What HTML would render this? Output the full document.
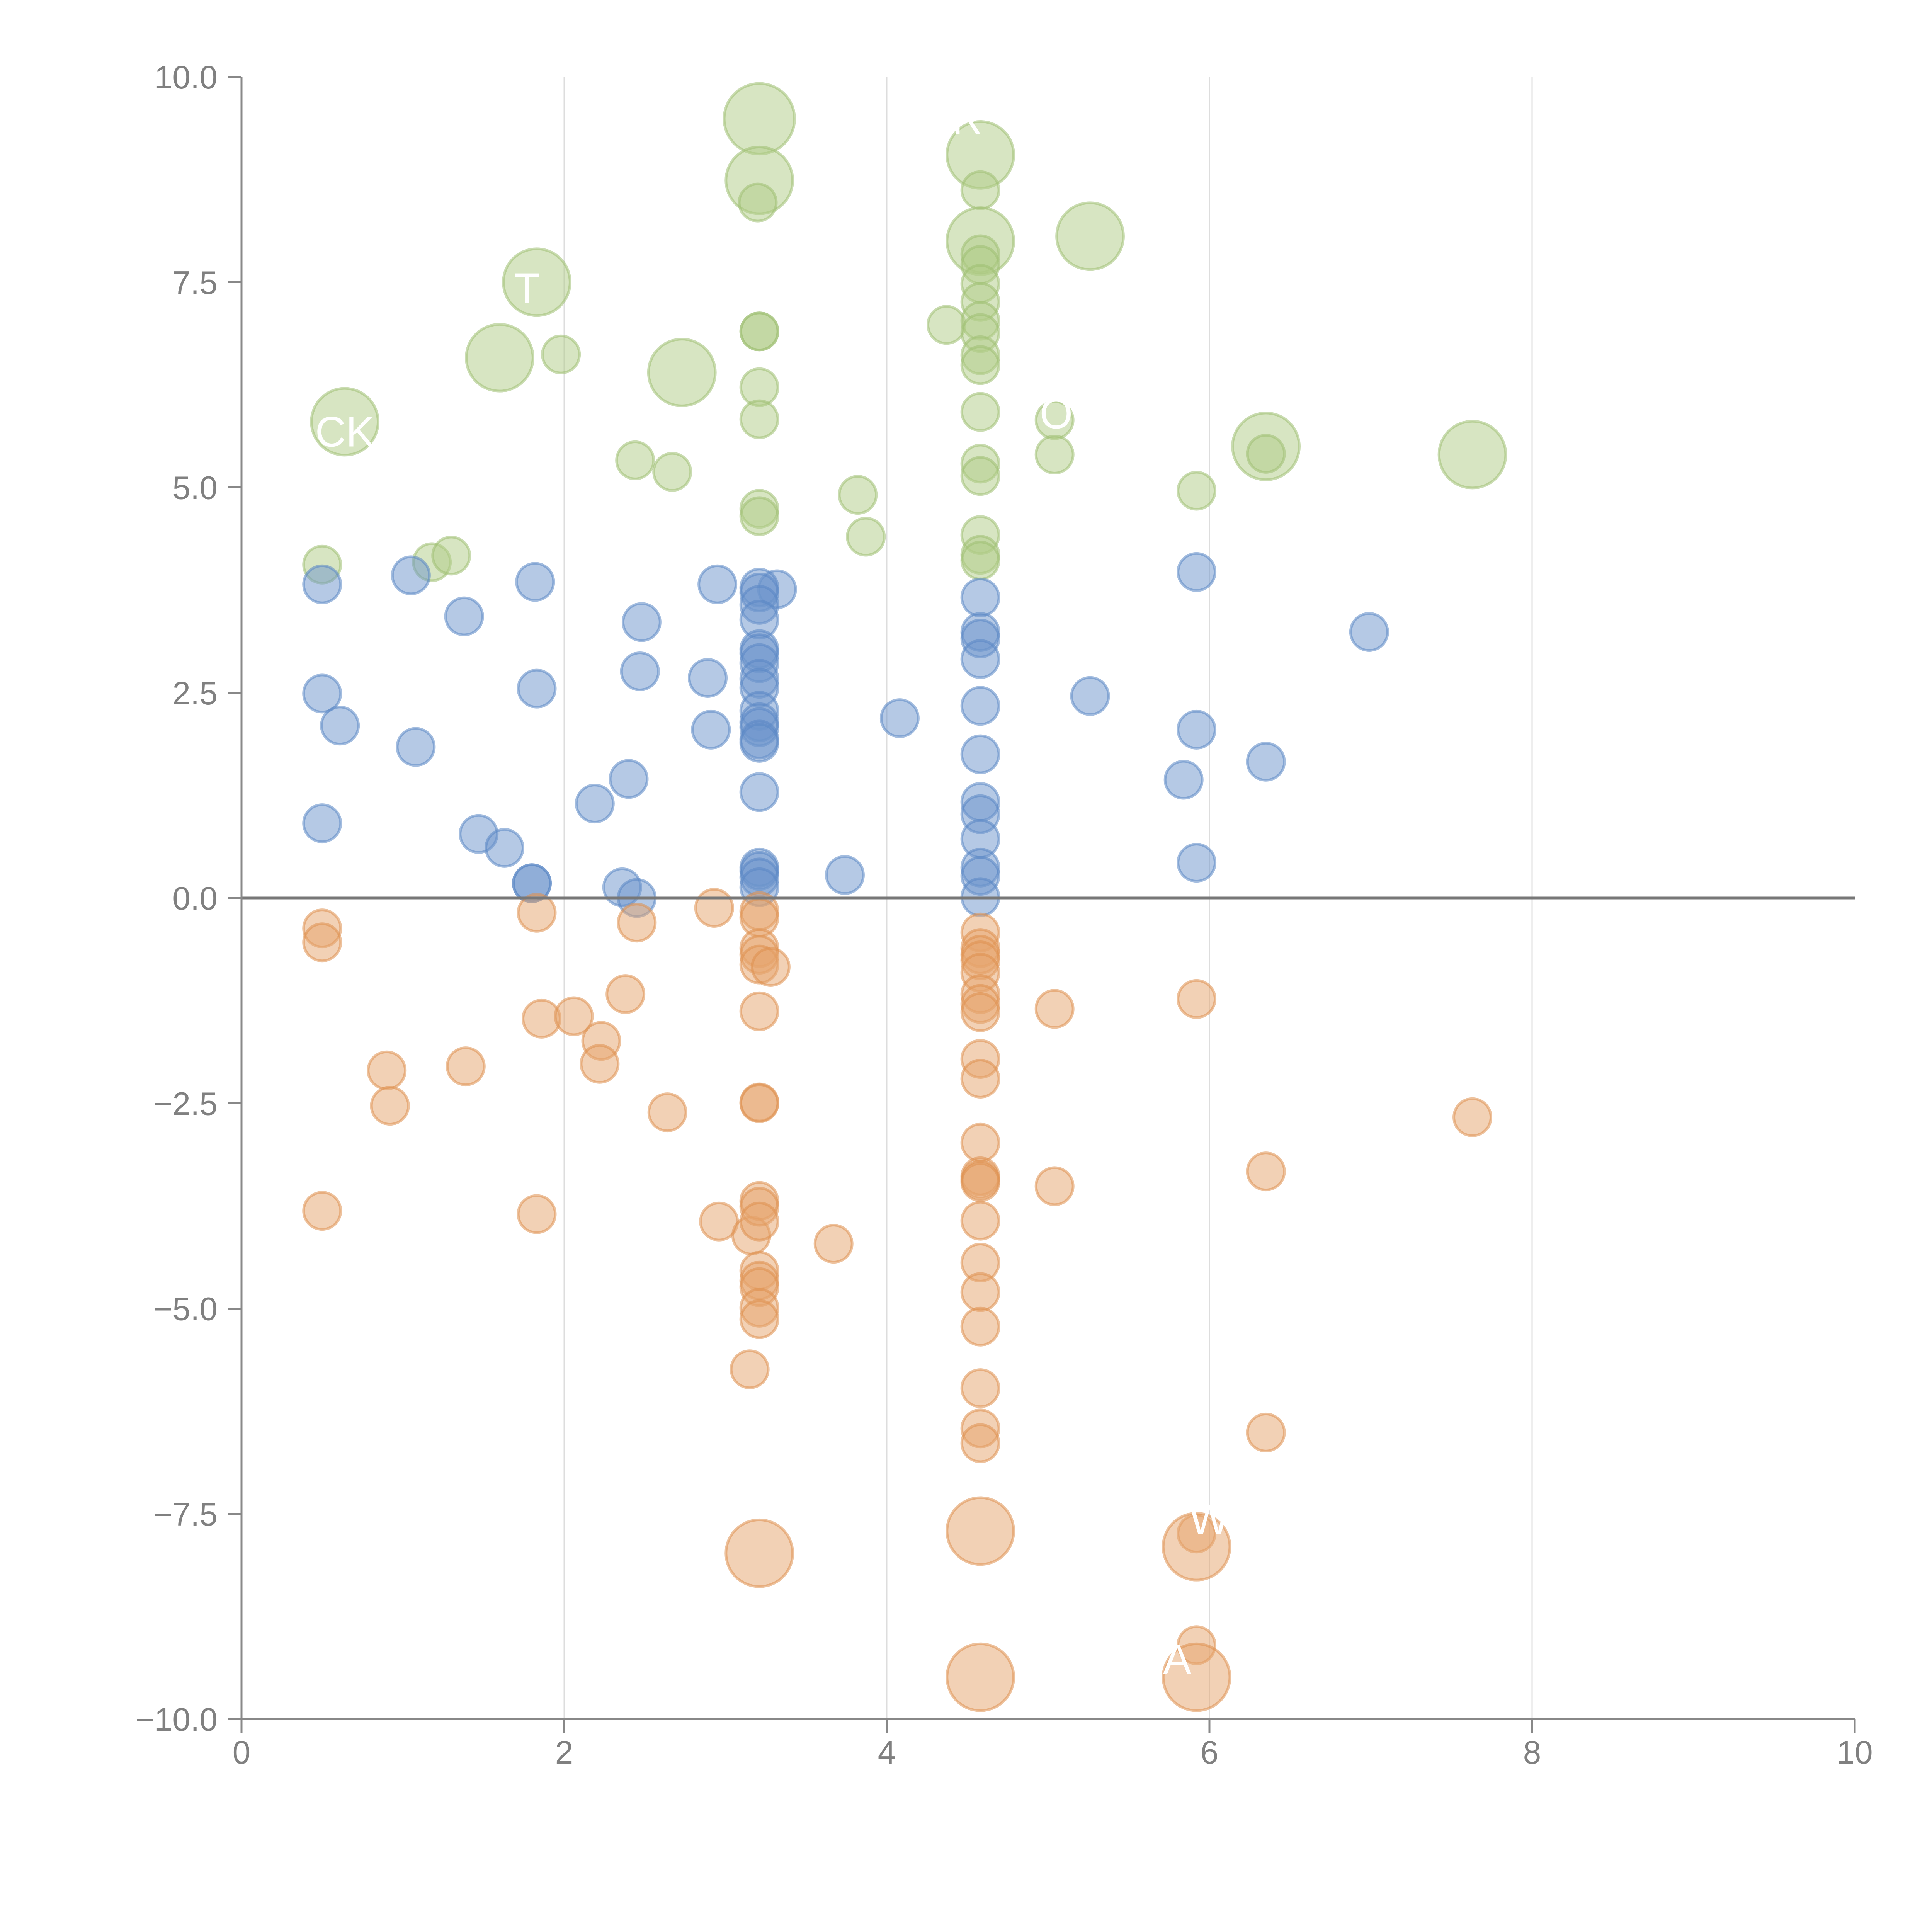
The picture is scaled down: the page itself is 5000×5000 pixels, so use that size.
<!DOCTYPE html>
<html>
<head>
<meta charset="utf-8">
<style>
  html, body { margin: 0; padding: 0; background: #ffffff; }
  svg { display: block; }
  text { font-family: "Liberation Sans", "DejaVu Sans", sans-serif; }
</style>
</head>
<body>
<svg id="chart" width="5000" height="5000" viewBox="0 0 5000 5000" xmlns="http://www.w3.org/2000/svg">
  <rect x="0" y="0" width="5000" height="5000" fill="#ffffff"/>
  <g id="grid"></g>
  <g id="bubbles"></g>
  <g id="axes"></g>
  <g id="labels"></g>
</svg>
<script>
// ---- data ----
const xTicks = [0, 2, 4, 6, 8, 10];
const xTickLabels = ["0", "2", "4", "6", "8", "10"];
const yTicks = [10, 7.5, 5, 2.5, 0, -2.5, -5, -7.5, -10];
const yTickLabels = ["10.0", "7.5", "5.0", "2.5", "0.0", "\u22122.5", "\u22125.0", "\u22127.5", "\u221210.0"];

const greenX = [3.21,3.21,3.2,4.58,4.58,4.58,5.26,1.83,1.6,1.98,2.73,0.64,2.44,2.67,3.21,3.21,3.21,3.21,3.21,3.21,3.82,3.87,4.37,
  4.58,4.58,4.58,4.58,4.58,4.58,4.58,4.58,4.58,4.58,4.58,4.58,4.58,4.58,5.04,5.04,6.35,6.35,5.92,7.63,0.5,1.18,1.3];
const greenY = [9.49,8.74,8.47,9.05,8.62,8.0,8.06,7.5,6.58,6.62,6.4,5.8,5.33,5.19,6.9,6.9,6.22,5.83,4.74,4.65,4.91,4.4,6.98,
  7.84,7.71,7.48,7.26,7.03,6.88,6.61,6.49,5.92,5.29,5.14,4.42,4.18,4.11,5.82,5.4,5.5,5.41,4.96,5.4,4.06,4.09,4.17];
const greenS = [1.9,1.8,1,1.8,1,1.8,1.8,1.8,1.8,1,1.8,1.8,1,1,1,1,1,1,1,1,1,1,1,
  1,1,1,1,1,1,1,1,1,1,1,1,1,1,1,1,1.8,1,1,1.8,1,1,1];

const blueX = [0.5,0.5,0.61,0.5,1.05,1.38,1.08,1.47,1.63,1.82,1.83,1.8,1.8,2.19,2.4,2.36,2.45,2.48,2.47,2.89,2.91,2.95,3.32,
  3.21,3.21,3.21,3.21,3.21,3.21,3.21,3.21,3.21,3.21,3.21,3.21,3.21,3.21,3.21,3.21,3.21,3.21,3.21,3.74,4.08,
  4.58,4.58,4.58,4.58,4.58,4.58,4.58,4.58,4.58,4.58,4.58,4.58,5.26,5.92,5.92,5.84,5.92,6.35,6.99];
const blueY = [3.82,2.49,2.1,0.91,3.93,3.43,1.84,0.78,0.61,3.85,2.55,0.18,0.18,1.15,1.45,0.13,0.0,3.36,2.76,2.68,2.05,3.82,3.76,
  3.78,3.72,3.57,3.39,3.03,2.98,2.86,2.67,2.56,2.28,2.14,2.08,1.93,1.89,1.29,0.37,0.33,0.25,0.13,0.28,2.19,
  3.66,3.24,3.16,2.91,2.34,1.75,1.17,1.02,0.72,0.37,0.27,0.01,2.46,3.97,2.05,1.44,0.43,1.66,3.24];

const orangeX = [0.5,0.5,0.5,0.9,0.92,1.39,1.83,1.86,1.83,2.06,2.23,2.22,2.38,2.45,2.64,2.93,2.96,3.15,3.16,
  3.21,3.21,3.21,3.21,3.21,3.21,3.21,3.21,3.21,3.21,3.21,3.21,3.21,3.21,3.21,3.21,3.28,3.67,
  4.58,4.58,4.58,4.58,4.58,4.58,4.58,4.58,4.58,4.58,4.58,4.58,4.58,4.58,4.58,4.58,4.58,4.58,4.58,4.58,4.58,
  5.04,5.04,5.92,6.35,6.35,7.63,5.92,5.92,3.21,4.58,4.58,5.92,5.92];
const orangeY = [-0.37,-0.54,-3.81,-2.1,-2.53,-2.05,-0.18,-1.47,-3.85,-1.44,-1.74,-2.02,-1.17,-0.3,-2.61,-0.12,-3.94,-5.74,-4.11,
  -0.16,-0.24,-0.61,-0.69,-0.81,-1.38,-2.49,-2.5,-3.69,-3.76,-3.94,-4.54,-4.66,-4.74,-4.99,-5.13,-0.84,-4.21,
  -0.42,-0.61,-0.69,-0.76,-0.91,-1.17,-1.29,-1.39,-1.96,-2.2,-2.98,-3.39,-3.43,-3.46,-3.93,-4.44,-4.8,-5.22,-5.97,-6.46,-6.64,
  -1.35,-3.51,-1.23,-3.33,-6.51,-2.67,-7.74,-9.1,-7.98,-7.71,-9.49,-7.9,-9.49];
const orangeS = [1,1,1,1,1,1,1,1,1,1,1,1,1,1,1,1,1,1,1,
  1,1,1,1,1,1,1,1,1,1,1,1,1,1,1,1,1,1,
  1,1,1,1,1,1,1,1,1,1,1,1,1,1,1,1,1,1,1,1,1,
  1,1,1,1,1,1,1,1,1.8,1.8,1.8,1.8,1.8];

const labelText = ["CK", "T", "R", "O", "A", "W"];
const labelX = [0.64, 1.77, 4.5, 5.05, 5.8, 6.0];
const labelY = [5.5, 7.25, 9.3, 5.72, -9.45, -7.75];

// ---- scales ----
const X0 = 625, X1 = 4800, Y0 = 4449, Y1 = 199;
const xMin = 0, xMax = 10, yMin = -10, yMax = 10;
function sx(v) { return X0 + (v - xMin) / (xMax - xMin) * (X1 - X0); }
function sy(v) { return Y0 - (v - yMin) / (yMax - yMin) * (Y0 - Y1); }
const BASE_R = 48;
const NS = "http://www.w3.org/2000/svg";
function mk(tag, attrs, parent) {
  const el = document.createElementNS(NS, tag);
  for (const k in attrs) el.setAttribute(k, attrs[k]);
  parent.appendChild(el);
  return el;
}

const grid = document.getElementById("grid");
const bubbles = document.getElementById("bubbles");
const axes = document.getElementById("axes");
const labels = document.getElementById("labels");

[2, 4, 6, 8].forEach(function (v) {
  const g = mk("line", { x1: sx(v), x2: sx(v), y1: Y1, y2: Y0, stroke: "#dddddd", "stroke-width": 3 }, grid);
  
  
});

function drawSeries(xs, ys, ss, fill, stroke, name) {
  for (let i = 0; i < xs.length; i++) {
    const s = ss ? ss[i] : 1;
    const c = mk("circle", {
      cx: sx(xs[i]), cy: sy(ys[i]), r: BASE_R * s,
      fill: fill, "fill-opacity": 0.5, stroke: stroke, "stroke-opacity": 0.55, "stroke-width": 7
    }, bubbles);
    
    
  }
}
drawSeries(greenX, greenY, greenS, "#afcb85", "#9fbf72", "green-bubble");
drawSeries(blueX, blueY, null, "#6b93cb", "#5a86c4", "blue-bubble");
drawSeries(orangeX, orangeY, orangeS, "#e6a36b", "#df8f4e", "orange-bubble");

const zl = mk("line", { x1: X0, x2: X1, y1: sy(0), y2: sy(0), stroke: "#777777", "stroke-width": 7 }, axes);



const ya = mk("line", { x1: X0, x2: X0, y1: Y1, y2: Y0, stroke: "#888888", "stroke-width": 5 }, axes);


const xa = mk("line", { x1: X0, x2: X1, y1: Y0, y2: Y0, stroke: "#888888", "stroke-width": 5 }, axes);



yTicks.forEach(function (v, i) {
  const t = mk("line", { x1: X0 - 36, x2: X0, y1: sy(v), y2: sy(v), stroke: "#888888", "stroke-width": 5 }, axes);
  
  
  const l = mk("text", { x: X0 - 62, y: sy(v) + 30, "text-anchor": "end", "font-size": 84, fill: "#808080" }, axes);
  l.textContent = yTickLabels[i];
  
  
});

xTicks.forEach(function (v, i) {
  const t = mk("line", { x1: sx(v), x2: sx(v), y1: Y0, y2: Y0 + 36, stroke: "#888888", "stroke-width": 5 }, axes);
  
  
  const l = mk("text", { x: sx(v), y: Y0 + 115, "text-anchor": "middle", "font-size": 84, fill: "#808080" }, axes);
  l.textContent = xTickLabels[i];
  
  
});

labelText.forEach(function (txt, i) {
  const l = mk("text", { x: sx(labelX[i]), y: sy(labelY[i]), "text-anchor": "middle", "font-size": 110, fill: "#ffffff" }, labels);
  l.textContent = txt;
  
  
});
</script>
</body>
</html>
